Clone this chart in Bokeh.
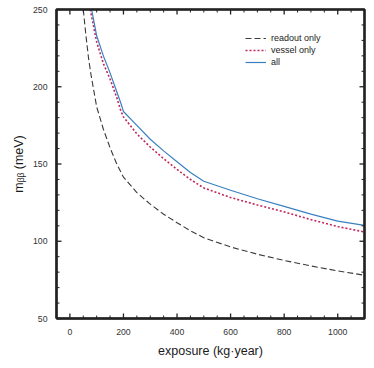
from bokeh.plotting import figure
from bokeh.models import (Range1d, LinearAxis, FixedTicker, Legend, LegendItem)
from bokeh.embed import file_html
from bokeh.resources import INLINE

# ---- data ----
readout_x = [50, 60, 70, 80, 100, 125, 150, 175, 200, 250, 300, 350, 400, 450, 500, 600, 700, 800, 900, 1000, 1100]
readout_y = [250, 233, 218, 206.5, 187, 172.5, 160.5, 150, 141.5, 131.5, 124, 117.5, 112, 106.8, 102.3, 96.3, 91.6, 87.6, 84, 80.8, 78]

vessel_x = [76, 100, 125, 150, 175, 190, 200, 250, 300, 350, 400, 450, 500, 600, 700, 800, 900, 1000, 1100]
vessel_y = [250, 229, 215, 205, 193, 184.5, 180.5, 169.5, 161, 153.5, 146.5, 140, 134.5, 128.3, 123.5, 119, 114, 109.5, 106]

all_x = [81, 90, 100, 125, 150, 175, 190, 200, 250, 300, 350, 400, 450, 500, 600, 700, 800, 900, 1000, 1100]
all_y = [250, 242, 233, 220, 209, 196.8, 189.5, 184, 175, 166, 158.5, 151.5, 144.5, 138.8, 133, 127.5, 122.6, 117.6, 113, 110.3]

x_ticks = [0, 200, 400, 600, 800, 1000]
x_minor_step = 50
y_ticks = [50, 100, 150, 200, 250]
y_minor_step = 10

FONT = "Liberation Sans"
TICK_COLOR = "#333333"
EDGE = "#222222"

X0, X1 = -50, 1100
Y0, Y1 = 50, 250
LEFT, TOP = 56, 9
W, H = 372, 360
RIGHT_B, BOTTOM_B = 8, 42
FW = W - LEFT - RIGHT_B
FH = H - TOP - BOTTOM_B

p = figure(width=W, height=H,
           x_range=Range1d(X0, X1), y_range=Range1d(Y0, Y1),
           output_backend="svg", toolbar_location=None,
           min_border_left=LEFT, min_border_right=RIGHT_B, min_border_top=TOP,
           min_border_bottom=BOTTOM_B, x_axis_location=None, y_axis_location=None)
p.grid.visible = False
p.outline_line_color = EDGE
p.outline_line_width = 1.3
p.background_fill_color = "white"
p.border_fill_color = "white"


def make_axis(ticks):
    ax = LinearAxis(ticker=FixedTicker(ticks=ticks))
    ax.axis_line_color = EDGE
    ax.axis_line_width = 1.3
    ax.major_tick_line_color = None
    ax.minor_tick_line_color = None
    ax.major_label_text_font = FONT
    ax.major_label_text_font_size = "8.7px"
    ax.major_label_text_color = TICK_COLOR
    ax.axis_label_text_font = FONT
    ax.axis_label_text_font_size = "12.5px"
    ax.axis_label_text_font_style = "normal"
    ax.axis_label_text_color = "#1a1a1a"
    return ax


xb = make_axis(x_ticks)
xb.axis_label = "exposure (kg·year)"
xb.major_label_standoff = 4
xb.axis_label_standoff = 6
p.add_layout(xb, "below")

yl = make_axis(y_ticks)
yl.axis_label = "m\u1d66\u1d66 (meV)"
yl.major_label_standoff = 3
yl.axis_label_standoff = 4
p.add_layout(yl, "left")

# ---- inward ticks on all four sides, drawn through the data scales ----
dx_px = (X1 - X0) / FW
dy_px = (Y1 - Y0) / FH
x_minor = [v for v in range(X0, X1 + 1, x_minor_step) if v not in x_ticks]
y_minor = [v for v in range(Y0, Y1 + 1, y_minor_step) if v not in y_ticks]

for ticks, length, width in ((x_ticks, 5, 1.3), (x_minor, 3, 1.0)):
    n = len(ticks)
    for edge, sign in ((Y0, 1), (Y1, -1)):
        r = p.segment(x0=ticks, y0=[edge] * n, x1=ticks,
                      y1=[edge + sign * length * dy_px] * n,
                      line_color=EDGE, line_width=width)
        r.level = "overlay"
for ticks, length, width in ((y_ticks, 5, 1.3), (y_minor, 3, 1.0)):
    n = len(ticks)
    for edge, sign in ((X0, 1), (X1, -1)):
        r = p.segment(x0=[edge] * n, y0=ticks,
                      x1=[edge + sign * length * dx_px] * n, y1=ticks,
                      line_color=EDGE, line_width=width)
        r.level = "overlay"

# frame box (half of the stroke is clipped by the frame)
box = p.line([X0, X1, X1, X0, X0], [Y0, Y0, Y1, Y1, Y0], line_color=EDGE, line_width=2.6)
box.level = "overlay"

# ---- curves ----
r_read = p.line(readout_x, readout_y, line_color="#3a3a3a", line_width=1.1, line_dash="6 3")
r_ves = p.line(vessel_x, vessel_y, line_color="#c2255c", line_width=1.6, line_dash="2 2")
r_all = p.line(all_x, all_y, line_color="#3a80c0", line_width=1.2)

legend = Legend(items=[LegendItem(label="readout only", renderers=[r_read]),
                       LegendItem(label="vessel only", renderers=[r_ves]),
                       LegendItem(label="all", renderers=[r_all])],
                location=(189, 250), padding=0, margin=0, spacing=0,
                border_line_color=None, background_fill_alpha=0,
                glyph_width=21, glyph_height=12, label_height=12,
                label_standoff=5, label_text_font=FONT,
                label_text_font_size="9px", label_text_color="#222222")
p.add_layout(legend, "center")

open("out.html", "w").write(file_html(p, INLINE))
